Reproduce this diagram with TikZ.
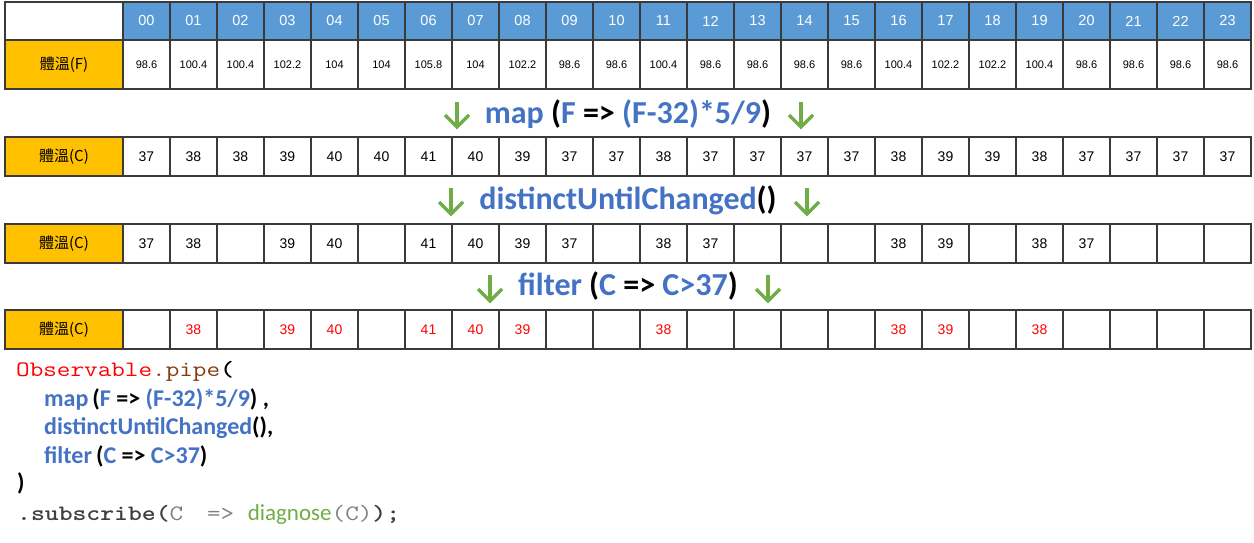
\documentclass[tikz,border=0pt]{standalone}
\usepackage{fontspec}
\usepackage{graphicx}
\setmainfont{Liberation Sans}
\newfontfamily\cjkfont{Noto Sans CJK TC}
\newfontfamily\calfont{Carlito}
\definecolor{hdrblue}{HTML}{5B9BD5}
\definecolor{labor}{HTML}{FFC000}
\definecolor{opblue}{HTML}{4472C4}
\definecolor{opgreen}{HTML}{70AD47}
\definecolor{obsred}{HTML}{FF0000}
\definecolor{pipebrown}{HTML}{843C0C}
\definecolor{dkgray}{HTML}{404040}
\definecolor{ltgray}{HTML}{7F7F7F}
\definecolor{gridc}{HTML}{3A3A3A}
\newcommand\greenarrow[3]{%
  \draw[garrow] (#1,#2) -- (#1,#3);
  \draw[garrow] ({#1-12},{#3-12}) -- (#1,#3) -- ({#1+12},{#3-12});}
\newcommand\mono[1]{\scalebox{1.2}[1]{\ttfamily #1}}
\begin{document}
\begin{tikzpicture}[x=1pt,y=-1pt,
  cell/.style={draw=gridc, line width=1.2pt, minimum width=47pt, minimum height=39pt,
    inner sep=0pt, outer sep=0pt, anchor=north west, font=\fontsize{14}{14}\selectfont},
  hcell/.style={cell, fill=hdrblue, text=white, minimum height=38pt, font=\fontsize{14.5}{14.5}\selectfont},
  fcell/.style={cell, minimum height=49pt, font=\fontsize{11}{11}\selectfont},
  lab/.style={cell, fill=labor, minimum width=118pt, font=\cjkfont\fontsize{15}{15}\selectfont},
  rcell/.style={cell, text=obsred},
  optext/.style={anchor=base, inner sep=0pt, font=\calfont\bfseries\fontsize{32}{32}\selectfont},
  code/.style={anchor=base west, inner sep=0pt, font=\calfont\bfseries\fontsize{24}{24}\selectfont},
  mcode/.style={anchor=base west, inner sep=0pt, font=\fontsize{22}{22}\selectfont},
  garrow/.style={draw=opgreen, line width=3.5pt, line cap=butt, line join=miter}]
\useasboundingbox (0,0) rectangle (1254,543);
\fill[white] (0,0) rectangle (1254,543);
% header row
\node[cell, minimum width=118pt, minimum height=38pt] (corner) at (5,2) {};
\foreach \i in {0,...,23} {
  \node[hcell] (h\i) at ({123+47*\i},2) {\ifnum\i<10 0\fi\i};
}
% Fahrenheit row
\node[lab, minimum height=49pt] (labF) at (5,40) {體溫(F)};
\foreach \v [count=\i from 0] in {98.6,100.4,100.4,102.2,104,104,105.8,104,102.2,98.6,98.6,100.4,98.6,98.6,98.6,98.6,100.4,102.2,102.2,100.4,98.6,98.6,98.6,98.6} {
  \node[fcell] (f\i) at ({123+47*\i},40) {\v};
}
% Celsius row
\node[lab] (labC) at (5,137) {體溫(C)};
\foreach \v [count=\i from 0] in {37,38,38,39,40,40,41,40,39,37,37,38,37,37,37,37,38,39,39,38,37,37,37,37} {
  \node[cell] (c\i) at ({123+47*\i},137) {\v};
}
% distinct row
\node[lab] (labD) at (5,224) {體溫(C)};
\foreach \v [count=\i from 0] in {37,38,{},39,40,{},41,40,39,37,{},38,37,{},{},{},38,39,{},38,37,{},{},{}} {
  \node[cell] (d\i) at ({123+47*\i},224) {\v};
}
% filter row
\node[lab] (labR) at (5,310) {體溫(C)};
\foreach \v [count=\i from 0] in {{},38,{},39,40,{},41,40,39,{},{},38,{},{},{},{},38,39,{},38,{},{},{},{}} {
  \node[rcell] (r\i) at ({123+47*\i},310) {\v};
}
% operator lines
\node[optext] (opmap) at (628,123) {\textcolor{opblue}{map} (\textcolor{opblue}{F} => \textcolor{opblue}{(F-32)*5/9})};
\greenarrow{457}{102}{127}
\greenarrow{801}{102}{127}
\node[optext] (opdist) at (628,209) {\textcolor{opblue}{distinctUntilChanged}()};
\greenarrow{451}{188}{214}
\greenarrow{807}{188}{214}
\node[optext] (opfilt) at (628,295) {\textcolor{opblue}{filter} (\textcolor{opblue}{C} => \textcolor{opblue}{C>37})};
\greenarrow{490}{275}{301}
\greenarrow{768}{275}{301}
% code
\node[mcode] (cl1) at (16,376) {\mono{\textcolor{obsred}{Observable}\textcolor{pipebrown}{.pipe}\bfseries(}};
\node[code] (cl2) at (44,406) {\textcolor{opblue}{map}\,(\textcolor{opblue}{F} => \textcolor{opblue}{(F-32)*5/9}) ,};
\node[code] (cl3) at (44,434) {\textcolor{opblue}{distinctUntilChanged}(),};
\node[code] (cl4) at (44,463) {\textcolor{opblue}{filter}\,(\textcolor{opblue}{C} => \textcolor{opblue}{C>37})};
\node[code] (cl5) at (17,490) {)};
\node[mcode] (cl6) at (17,520) {\mono{\color{dkgray}\bfseries .subscribe(\mdseries\color{ltgray}C\hspace{0.9em}=> }{\calfont\fontsize{23}{23}\selectfont\color{opgreen}diagnose}\mono{\color{ltgray}(C)\color{dkgray}\bfseries);}};
\end{tikzpicture}
\end{document}
